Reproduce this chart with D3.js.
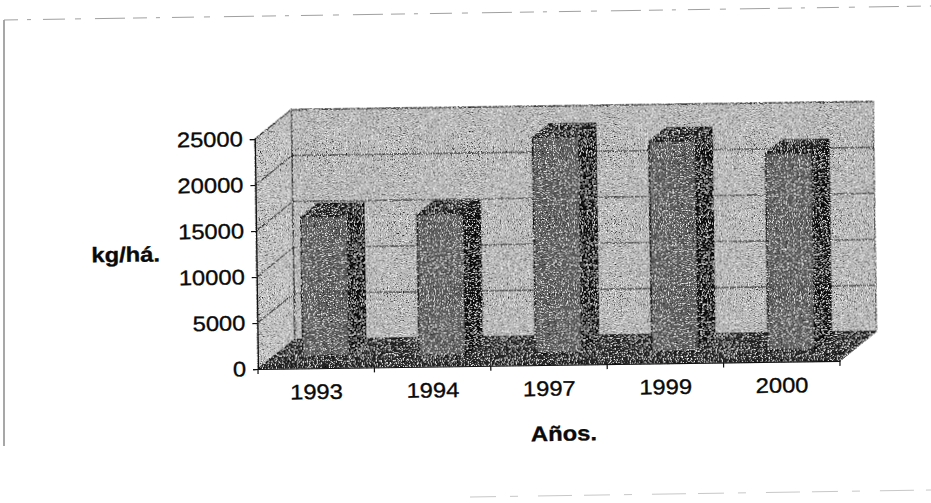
<!DOCTYPE html>
<html>
<head>
<meta charset="utf-8">
<script src="https://cdn.jsdelivr.net/npm/d3@7/dist/d3.min.js"></script>
<style>
  html, body { margin: 0; padding: 0; background: #fff; }
  svg { display: block; }
  text { font-family: "Liberation Sans", Arial, sans-serif; fill: #0a0a0a; stroke: #0a0a0a; stroke-width: 0.35px; }
</style>
</head>
<body>
<svg id="chart" width="931" height="503"></svg>
<script>
// Rendimiento por año (kg/há.)
const years = ["1993", "1994", "1997", "1999", "2000"];
const yields = [15200, 15300, 23500, 22900, 21400];
const yTicks = [0, 5000, 10000, 15000, 20000, 25000];
const yTitle = "kg/há.";
const xTitle = "Años.";

const svg = d3.select("#chart");
const W = 931, H = 503;
svg.append("rect").attr("width", W).attr("height", H).attr("fill", "#fff");

// page frame
svg.append("line").attr("x1", 4).attr("y1", 20).attr("x2", 4).attr("y2", 446)
  .attr("stroke", "#8a8a8a").attr("stroke-width", 1.5);
svg.append("line").attr("x1", 4).attr("y1", 20).attr("x2", 931).attr("y2", 6)
  .attr("stroke", "#a0a0a0").attr("stroke-width", 1)
  .attr("stroke-dasharray", "14 9 4 12 22 10 6 14 30 8");
svg.append("line").attr("x1", 470).attr("y1", 497).attr("x2", 931).attr("y2", 490)
  .attr("stroke", "#c8c8c8").attr("stroke-width", 1)
  .attr("stroke-dasharray", "26 14 8 20 34 12");

// grain texture for the plotted surfaces
const defs = svg.append("defs");
const f = defs.append("filter").attr("id", "grain")
  .attr("filterUnits", "userSpaceOnUse")
  .attr("x", 0).attr("y", 0).attr("width", W).attr("height", H);
f.append("feTurbulence").attr("type", "fractalNoise").attr("baseFrequency", 0.85)
  .attr("numOctaves", 2).attr("seed", 7).attr("result", "n");
f.append("feColorMatrix").attr("in", "n").attr("type", "matrix")
  .attr("values", "0 0 0 0 0  0 0 0 0 0  0 0 0 0 0  5 0 0 0 -2.55").attr("result", "dark");
f.append("feColorMatrix").attr("in", "n").attr("type", "matrix")
  .attr("values", "0 0 0 0 1  0 0 0 0 1  0 0 0 0 1  0 -5 0 0 2.2").attr("result", "light");
const fm = f.append("feMerge").attr("result", "m");
fm.append("feMergeNode").attr("in", "SourceGraphic");
fm.append("feMergeNode").attr("in", "dark");
fm.append("feMergeNode").attr("in", "light");
f.append("feComposite").attr("in", "m").attr("in2", "SourceGraphic").attr("operator", "in");

// geometry of the 3-D box
const x0 = 258, y0 = 369;          // front-left floor corner
const floorW = 582;                 // front edge length
const D = [37, -29];                // depth vector (front -> back)
const plotH = 230;                  // height of 25000 on the wall
const f0 = 0.4, f1 = 0.86;          // bar depth span

const g = svg.append("g").attr("transform", `rotate(-0.8, ${x0}, ${y0})`);

const x = d3.scaleBand().domain(years).range([x0, x0 + floorW])
  .paddingInner(0.6).paddingOuter(0.3).align(0.43);
const xCat = d3.scaleBand().domain(years).range([x0, x0 + floorW]);
const h = d3.scaleLinear().domain([0, 25000]).range([0, plotH]);
const yAxisScale = d3.scaleLinear().domain([0, 25000]).range([y0, y0 - plotH]);

const pt = (px, py, fd) => [px + D[0] * fd, py + D[1] * fd];
const poly = pts => pts.map(p => p.join(",")).join(" ");

const plot = g.append("g").attr("filter", "url(#grain)");

// back wall
const bx = x0 + D[0], by = y0 + D[1];
plot.append("polygon")
  .attr("points", poly([[bx, by], [bx + floorW, by], [bx + floorW, by - plotH], [bx, by - plotH]]))
  .attr("fill", "#bebebe").attr("stroke", "#222").attr("stroke-width", 1.2);
// side wall
plot.append("polygon")
  .attr("points", poly([[x0, y0], [bx, by], [bx, by - plotH], [x0, y0 - plotH]]))
  .attr("fill", "#c6c6c6").attr("stroke", "#222").attr("stroke-width", 1.2);

// gridlines on the walls
yTicks.filter(v => v > 0).forEach(v => {
  const yy = h(v);
  plot.append("line").attr("x1", bx).attr("y1", by - yy).attr("x2", bx + floorW).attr("y2", by - yy)
    .attr("stroke", "#1a1a1a").attr("stroke-width", 1.1);
  plot.append("line").attr("x1", x0).attr("y1", y0 - yy).attr("x2", bx).attr("y2", by - yy)
    .attr("stroke", "#1a1a1a").attr("stroke-width", 1.1);
});

// floor
plot.append("polygon")
  .attr("points", poly([[x0, y0], [x0 + floorW, y0], [bx + floorW, by], [bx, by]]))
  .attr("fill", "#262626").attr("stroke", "#111").attr("stroke-width", 1);

// bars
const bw = x.bandwidth();
years.forEach((yr, i) => {
  const v = yields[i];
  const left = x(yr), right = left + bw, hh = h(v);
  const FBL = pt(left, y0, f0), FBR = pt(right, y0, f0);
  const FTL = pt(left, y0 - hh, f0), FTR = pt(right, y0 - hh, f0);
  const BTL = pt(left, y0 - hh, f1), BTR = pt(right, y0 - hh, f1);
  const BBR = pt(right, y0, f1);
  const bar = plot.append("g").attr("class", "bar");
  bar.append("polygon").attr("points", poly([FTR, BTR, BBR, FBR]))
    .attr("fill", "#0e0e0e").attr("stroke", "#000").attr("stroke-width", 1);
  bar.append("polygon").attr("points", poly([FTL, FTR, BTR, BTL]))
    .attr("fill", "#1e1e1e").attr("stroke", "#000").attr("stroke-width", 1);
  bar.append("polygon").attr("points", poly([FBL, FBR, FTR, FTL]))
    .attr("fill", "#606060").attr("stroke", "#111").attr("stroke-width", 1.6);
});

// value axis
const sx = 1.13;
const yAxis = d3.axisLeft(yAxisScale).tickValues(yTicks).tickFormat(d3.format("d"))
  .tickSize(5).tickPadding(7);
const ya = g.append("g").attr("transform", `translate(${x0},0)`).call(yAxis);
ya.select(".domain").attr("stroke", "#111").attr("stroke-width", 1.2);
ya.selectAll(".tick line").attr("stroke", "#111").attr("stroke-width", 1.2);
ya.selectAll(".tick text")
  .attr("x", -12 / sx).attr("transform", `scale(${sx},1)`)
  .style("font-size", "21px").attr("fill", "#0a0a0a");

// category axis along the front edge of the floor
const xAxis = d3.axisBottom(xCat).tickSize(0).tickPadding(16);
const xa = g.append("g").attr("transform", `translate(0,${y0})`).call(xAxis);
xa.select(".domain").attr("stroke", "#111").attr("stroke-width", 1.2);
xa.selectAll(".tick text")
  .attr("transform", `scale(${sx},1)`)
  .style("font-size", "21px").attr("fill", "#0a0a0a");
const bounds = years.map(d => xCat(d)).concat([x0 + floorW]);
xa.selectAll(".bound").data(bounds).join("line").attr("class", "bound")
  .attr("x1", d => d).attr("x2", d => d).attr("y1", 0).attr("y2", 5)
  .attr("stroke", "#111").attr("stroke-width", 1.2);

// axis titles
g.append("text").attr("transform", `translate(93,260) scale(${sx},1)`)
  .style("font-size", "21px").style("font-weight", "bold").text(yTitle);
g.append("text").attr("transform", `translate(563,445) scale(${sx},1)`)
  .attr("text-anchor", "middle")
  .style("font-size", "21px").style("font-weight", "bold").text(xTitle);
</script>
</body>
</html>
